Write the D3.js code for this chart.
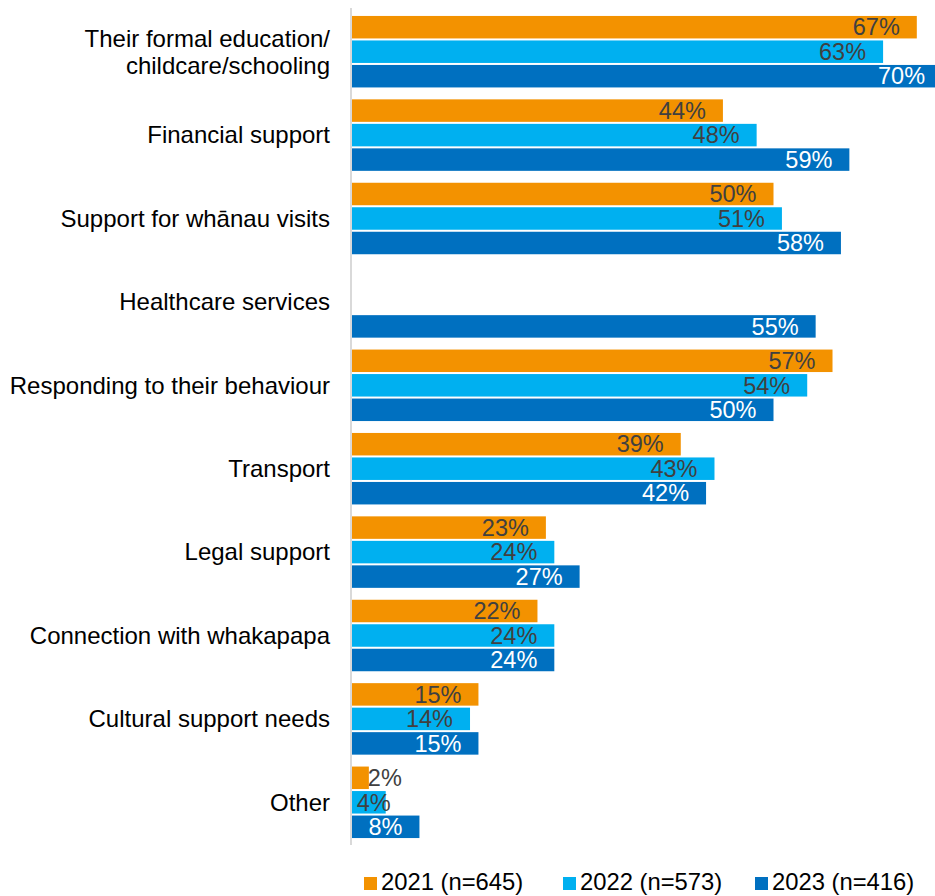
<!DOCTYPE html>
<html>
<head>
<meta charset="utf-8">
<script src="https://cdn.jsdelivr.net/npm/d3@7"></script>
<style>
  html, body { margin: 0; padding: 0; background: #fff; }
  svg { display: block; font-family: "Liberation Sans", Arial, sans-serif; }
</style>
</head>
<body>
<svg id="chart" width="935" height="896"></svg>
<script>
// Support areas, one row each (line breaks marked with \n)
const categories = [
  "Their formal education/\nchildcare/schooling",
  "Financial support",
  "Support for whānau visits",
  "Healthcare services",
  "Responding to their behaviour",
  "Transport",
  "Legal support",
  "Connection with whakapapa",
  "Cultural support needs",
  "Other"
];

// Percentages per survey year (null = not asked that year)
const values2021 = [67, 44, 50, null, 57, 39, 23, 22, 15, 2];
const values2022 = [63, 48, 51, null, 54, 43, 24, 24, 14, 4];
const values2023 = [70, 59, 58, 55, 50, 42, 27, 24, 15, 8];

const seriesNames = ["2021 (n=645)", "2022 (n=573)", "2023 (n=416)"];
const seriesColors = ["#F39200", "#00B0F0", "#0070C0"];
const labelColors = ["#404040", "#404040", "#ffffff"];
const seriesValues = [values2021, values2022, values2023];

const svg = d3.select("#chart");

const x = d3.scaleLinear().domain([0, 100]).range([352, 1195]);
const y0 = d3.scaleBand().domain(categories).range([10, 844]);
const y1 = d3.scaleBand().domain(d3.range(3)).range([0, y0.bandwidth()])
  .paddingInner(0.082).paddingOuter(0.243);

const rows = categories.map((c, i) => ({
  cat: c,
  bars: seriesValues.map((vals, s) => ({ s, v: vals[i] })).filter(d => d.v != null)
}));

const gRow = svg.selectAll("g.row").data(rows).join("g")
  .attr("class", "row")
  .attr("transform", d => `translate(0,${y0(d.cat)})`);

gRow.selectAll("rect").data(d => d.bars).join("rect")
  .attr("x", x(0))
  .attr("y", d => y1(d.s))
  .attr("width", d => x(d.v) - x(0))
  .attr("height", y1.bandwidth())
  .attr("fill", d => seriesColors[d.s]);

// Value labels: inside the bar end, or next to it when the bar is too short
const labelFont = 23.5;
gRow.selectAll("text.val").data(d => d.bars).join("text")
  .attr("class", "val")
  .attr("y", d => y1(d.s) + y1.bandwidth() / 2)
  .attr("dy", "0.35em")
  .attr("font-size", labelFont)
  .text(d => d.v + "%")
  .each(function (d) {
    const t = d3.select(this);
    const w = this.getComputedTextLength();
    const end = x(d.v);
    const barW = end - x(0);
    if (barW - 17 - w >= 2) {
      t.attr("x", end - 17).attr("text-anchor", "end").attr("fill", labelColors[d.s]);
    } else if (w < barW + 10) {
      t.attr("x", end + 5).attr("text-anchor", "end").attr("fill", "#404040");
    } else {
      t.attr("x", end - 1).attr("text-anchor", "start").attr("fill", "#404040");
    }
  });

// Category labels
gRow.append("text")
  .attr("text-anchor", "end")
  .attr("font-size", 24)
  .attr("fill", "#000")
  .each(function (d) {
    const lines = d.cat.split("\n");
    const lh = 27;
    const mid = y0.bandwidth() / 2;
    const t = d3.select(this);
    lines.forEach((ln, k) => {
      t.append("tspan")
        .attr("x", 330)
        .attr("y", mid + (k - (lines.length - 1) / 2) * lh)
        .attr("dy", "0.35em")
        .text(ln);
    });
  });

// Vertical category axis line
svg.append("line")
  .attr("x1", 351).attr("x2", 351)
  .attr("y1", 8).attr("y2", 845)
  .attr("stroke", "#d9d9d9").attr("stroke-width", 2);

// Legend
const legendX = [364, 563, 755];
const legend = svg.selectAll("g.leg").data(seriesNames).join("g")
  .attr("class", "leg")
  .attr("transform", (d, i) => `translate(${legendX[i]},0)`);
legend.append("rect")
  .attr("x", 0).attr("y", 877).attr("width", 13).attr("height", 13)
  .attr("fill", (d, i) => seriesColors[i]);
legend.append("text")
  .attr("x", 17).attr("y", 890)
  .attr("font-size", 23.8).attr("fill", "#000")
  .text(d => d);
</script>
</body>
</html>
